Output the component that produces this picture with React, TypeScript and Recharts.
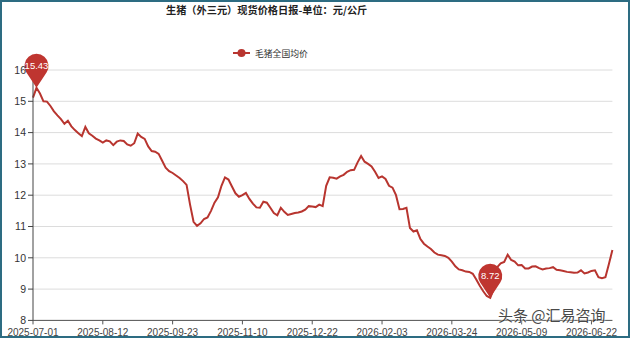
import React from 'react';
import { LineChart, Line, XAxis, YAxis, CartesianGrid, ReferenceDot, Legend } from 'recharts';

const TITLE = '生猪（外三元）现货价格日报-单位：元/公斤';
const SERIES_NAME = '毛猪全国均价';
const WATERMARK = '头条 @汇易咨询';

const xTickLabels = [
  '2025-07-01', '2025-08-12', '2025-09-23', '2025-11-10', '2025-12-22',
  '2026-02-03', '2026-03-24', '2026-05-09', '2026-06-22',
];
const xTickIndex = [0, 20, 40, 60, 80, 100, 120, 140, 160];
const yTicks = [8, 9, 10, 11, 12, 13, 14, 15, 16];

const prices = [
  15.12, 15.43, 15.25, 15.0, 14.99, 14.85, 14.68, 14.55, 14.43, 14.28,
  14.38, 14.2, 14.08, 13.98, 13.89, 14.18, 13.98, 13.9, 13.81, 13.75,
  13.68, 13.75, 13.72, 13.6, 13.71, 13.75, 13.73, 13.62, 13.58, 13.66,
  13.97, 13.86, 13.8, 13.56, 13.41, 13.39, 13.32, 13.1, 12.88, 12.77,
  12.71, 12.63, 12.55, 12.45, 12.33, 11.7, 11.15, 11.02, 11.1, 11.24,
  11.29, 11.5, 11.76, 11.93, 12.3, 12.57, 12.5, 12.28, 12.06, 11.95,
  12.0, 12.07, 11.88, 11.73, 11.61, 11.6, 11.79, 11.76, 11.6, 11.43,
  11.36, 11.6, 11.47, 11.37, 11.4, 11.43, 11.45, 11.48, 11.54, 11.65,
  11.64, 11.62, 11.7, 11.65, 12.3, 12.57, 12.56, 12.53, 12.6, 12.65,
  12.75, 12.8, 12.81, 13.05, 13.25, 13.07, 13.0, 12.92, 12.75, 12.55,
  12.6, 12.52, 12.3, 12.24, 12.0, 11.55, 11.56, 11.6, 10.95, 10.84,
  10.88, 10.6, 10.45, 10.36, 10.28, 10.17, 10.1, 10.08, 10.06, 10.0,
  9.88, 9.73, 9.63, 9.6, 9.56, 9.55, 9.49, 9.31, 9.11, 8.93,
  8.78, 8.72, 9.0, 9.7, 9.82, 9.87, 10.1, 9.93, 9.88, 9.76,
  9.77, 9.66, 9.66, 9.72, 9.73, 9.67, 9.63, 9.66, 9.67, 9.7,
  9.62, 9.6, 9.58, 9.55, 9.54, 9.52, 9.53, 9.6, 9.5, 9.53,
  9.58, 9.6, 9.38, 9.35, 9.38, 9.8, 10.25,
];

const data = prices.map((v, i) => ({ i, v }));
const maxV = Math.max(...prices);
const minV = Math.min(...prices);
const maxI = prices.indexOf(maxV);
const minI = prices.indexOf(minV);

const RED = '#b8352f';
const PIN = '#bf3530';

const makePin = (label: string) => (props: any) => {
  const { cx, cy } = props;
  if (cx == null || cy == null) return <g />;
  const d = 22;
  const r = 12;
  const L = Math.sqrt(d * d - r * r);
  const sa = r / d;
  const ca = L / d;
  const dx = L * sa;
  const dy = L * ca;
  const path = `M ${cx} ${cy} L ${cx - dx} ${cy - dy} A ${r} ${r} 0 1 1 ${cx + dx} ${cy - dy} Z`;
  return (
    <g>
      <path d={path} fill={PIN} stroke="none" />
      <text
        x={cx}
        y={cy - d}
        textAnchor="middle"
        dominantBaseline="central"
        fill="#fff"
        fontSize={9.5}
        fontFamily="'Liberation Sans', Arial, sans-serif"
      >
        {label}
      </text>
    </g>
  );
};

const renderLegend = () => (
  <div style={{ position: 'relative', width: 630, height: 14 }}>
    <svg width={630} height={14} style={{ position: 'absolute', left: 0, top: 0 }}>
      <line x1={233} y1={7} x2={250} y2={7} stroke={RED} strokeWidth={2} />
      <circle cx={241.5} cy={7} r={4} fill={RED} />
      <text
        x={255}
        y={7}
        dominantBaseline="central"
        fontSize={8.8}
        fill="#333"
        fontFamily="'Noto Sans CJK SC', sans-serif"
      >
        {SERIES_NAME}
      </text>
    </svg>
  </div>
);

export default function App() {
  return (
    <div style={{ position: 'absolute', left: 0, top: 0, width: 630, height: 338, background: '#fff', overflow: 'hidden' }}>
      <div
        style={{
          position: 'absolute',
          left: 166,
          top: 2,
          fontSize: 10.2,
          fontWeight: 'bold',
          color: '#222',
          fontFamily: "'Noto Sans CJK SC', sans-serif",
          whiteSpace: 'nowrap',
          lineHeight: '16px',
        }}
      >
        {TITLE}
      </div>
      <LineChart
        width={630}
        height={338}
        data={data}
        margin={{ top: 70, right: 17.6, left: 0, bottom: 0 }}
      >
        <CartesianGrid vertical={false} stroke="#dcdcdc" />
        <XAxis
          dataKey="i"
          type="number"
          domain={[0, prices.length - 1]}
          ticks={xTickIndex}
          interval={0}
          tickFormatter={(v: number) => xTickLabels[xTickIndex.indexOf(v)] ?? ''}
          height={17.6}
          tickSize={4}
          tickMargin={4}
          stroke="#555"
          tick={{ fill: '#444', fontSize: 10, fontFamily: "'Liberation Sans', Arial, sans-serif" }}
        />
        <YAxis
          domain={[8, 16]}
          ticks={yTicks}
          interval={0}
          width={33}
          tickSize={5}
          tickMargin={2}
          stroke="#444"
          tick={{ fill: '#333', fontSize: 10.5, fontFamily: "'Liberation Sans', Arial, sans-serif" }}
        />
        <Legend
          layout="horizontal"
          verticalAlign="middle"
          align="center"
          content={renderLegend}
          wrapperStyle={{ position: 'absolute', top: 46, left: 0, width: 630, height: 14 }}
        />
        <Line
          type="linear"
          dataKey="v"
          name={SERIES_NAME}
          stroke={RED}
          strokeWidth={2}
          dot={false}
          activeDot={false}
          isAnimationActive={false}
        />
        <ReferenceDot x={maxI} y={maxV} ifOverflow="visible" shape={makePin(maxV.toFixed(2))} />
        <ReferenceDot x={minI} y={minV} ifOverflow="visible" shape={makePin(minV.toFixed(2))} />
      </LineChart>
      <div
        style={{
          position: 'absolute',
          left: 498,
          top: 305,
          fontSize: 15,
          color: '#2a2a2a',
          opacity: 0.85,
          fontFamily: "'Noto Sans CJK SC', sans-serif",
          whiteSpace: 'nowrap',
          lineHeight: '20px',
          textShadow: '0 0 2px #fff, 0 0 2px #fff',
        }}
      >
        {WATERMARK}
      </div>
      <div
        style={{
          position: 'absolute',
          left: 0,
          top: 0,
          width: 630,
          height: 338,
          boxSizing: 'border-box',
          border: '2px solid #2d6c82',
          pointerEvents: 'none',
        }}
      />
    </div>
  );
}
